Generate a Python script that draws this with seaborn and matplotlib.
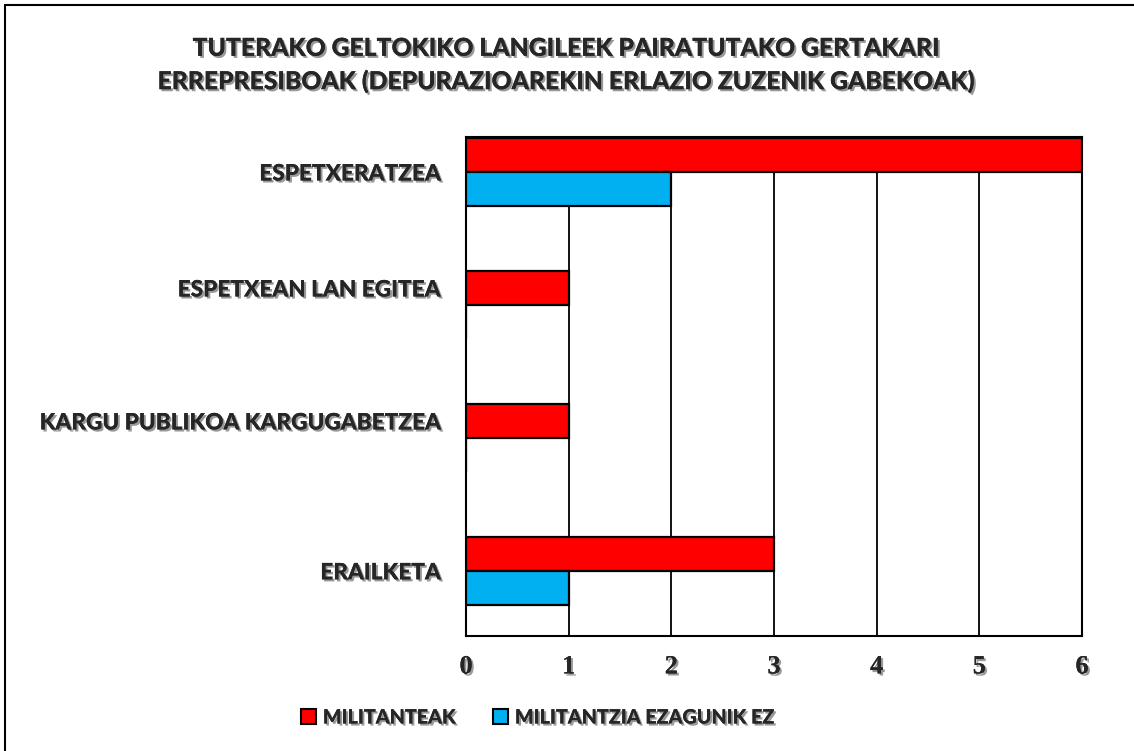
import numpy as np
import pandas as pd
import matplotlib
matplotlib.use("Agg")
import matplotlib.pyplot as plt
import matplotlib.patheffects as pe
from matplotlib.patches import Patch
from matplotlib.lines import Line2D
import seaborn as sns

# -----------------------------
# DATA
# -----------------------------
categories = ["ESPETXERATZEA", "ESPETXEAN LAN EGITEA",
              "KARGU PUBLIKOA KARGUGABETZEA", "ERAILKETA"]
militanteak = [6, 1, 1, 3]
ezagunik_ez = [2, 0, 0, 1]
series_names = ["MILITANTEAK", "MILITANTZIA EZAGUNIK EZ"]
x_ticks = [0, 1, 2, 3, 4, 5, 6]
title = ("TUTERAKO GELTOKIKO LANGILEEK PAIRATUTAKO GERTAKARI\n"
         "ERREPRESIBOAK (DEPURAZIOAREKIN ERLAZIO ZUZENIK GABEKOAK)")

RED = "#FF0000"
BLUE = "#00B0F0"
LABEL_FONT = ["Lato", "DejaVu Sans"]
WEIGHT = "black"

df = pd.DataFrame({
    "kategoria": categories * 2,
    "saila": [series_names[0]] * 4 + [series_names[1]] * 4,
    "balioa": militanteak + ezagunik_ez,
})

# -----------------------------
# FIGURE
# -----------------------------
sns.set_theme(style="white")
plt.rcParams["font.family"] = LABEL_FONT

fig = plt.figure(figsize=(11.34, 7.51), dpi=100)
ax = fig.add_axes([466 / 1134, 1 - 636 / 751, 616 / 1134, 499 / 751])

BAR_W = 0.51
sns.barplot(data=df, x="balioa", y="kategoria", hue="saila",
            orient="h", dodge=True, width=BAR_W, saturation=1,
            palette=[RED, BLUE], edgecolor="black", linewidth=1.6,
            legend=False, ax=ax, zorder=3)

ax.set_xlim(0, 6)
ax.set_ylim(3.49, -0.263)
ax.set_xticks(x_ticks)
ax.grid(axis="x", color="black", linewidth=1.3, zorder=0)
ax.grid(axis="y", visible=False)
for s in ax.spines.values():
    s.set_visible(True)
    s.set_color("black")
    s.set_linewidth(1.5)

shadow = [pe.withSimplePatchShadow(offset=(1.5, -1.5), shadow_rgbFace="#555555", alpha=0.6),
          pe.Normal()]

# labels sit on the bar pair, or on the red bar when only that one is drawn
ytick_pos = [i if b > 0 else i - BAR_W / 4 for i, b in enumerate(ezagunik_ez)]
ax.set_yticks(ytick_pos)
ax.set_yticklabels(categories, fontsize=16.3, fontweight=WEIGHT, family=LABEL_FONT)
ax.set_xticklabels([str(t) for t in x_ticks], fontsize=19, fontweight="bold",
                   family="Liberation Serif")
for t in ax.get_yticklabels():
    t.set_path_effects(shadow)
for t in ax.get_xticklabels():
    t.set_path_effects(shadow)
ax.tick_params(axis="x", length=0, pad=14)
ax.tick_params(axis="y", length=0, pad=18)
ax.set_xlabel("")
ax.set_ylabel("")

fig.text(0.5, 1 - 65 / 751, title, ha="center", va="center", fontsize=17.8,
         fontweight=WEIGHT, linespacing=1.5, path_effects=shadow)

handles = [Patch(facecolor=RED, edgecolor="black", linewidth=1.5),
           Patch(facecolor=BLUE, edgecolor="black", linewidth=1.5)]
leg = fig.legend(handles, series_names, loc="center", bbox_to_anchor=(538 / 1134, 1 - 717 / 751),
                 ncol=2, frameon=False, handlelength=0.75, handleheight=0.75,
                 handletextpad=0.35, columnspacing=1.9,
                 prop={"family": LABEL_FONT, "weight": WEIGHT, "size": 14.2})
for t in leg.get_texts():
    t.set_path_effects(shadow)

# top and left frame lines of the picture
fig.add_artist(Line2D([5 / 1134, 1], [1 - 5 / 751, 1 - 5 / 751], color="black", linewidth=1.5))
fig.add_artist(Line2D([5 / 1134, 5 / 1134], [0, 1 - 5 / 751], color="black", linewidth=1.5))

fig.savefig("out.png", dpi=100, facecolor="white")
